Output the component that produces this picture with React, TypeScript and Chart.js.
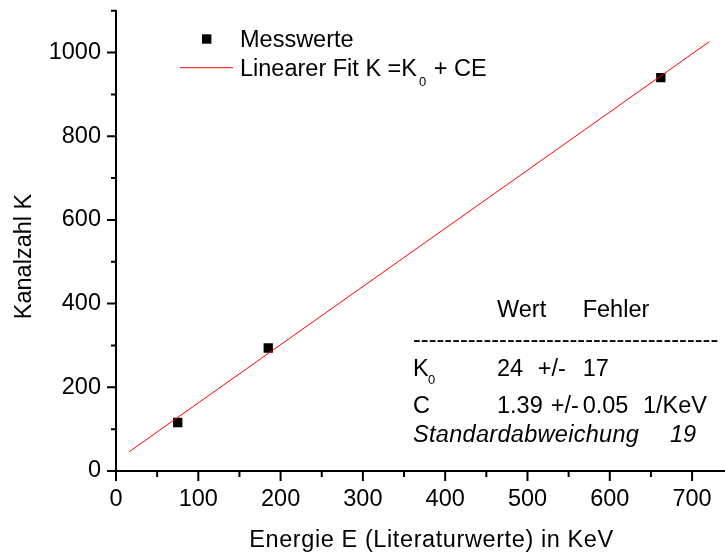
import React, { useEffect, useRef } from "react";
import { Chart, registerables } from "chart.js";

Chart.register(...registerables);

// Measured values (E in keV, K = channel number)
const energyE: number[] = [75, 185, 662];
const channelK: number[] = [116, 294, 940];

// Linear fit line K = K0 + C*E, read at its drawn end points
const fitE: number[] = [16, 721];
const fitK: number[] = [46, 1026];

const xTickStep = 100;
const yTickStep = 200;
const xMax = 740;
const yMax = 1100;

const xTitle = "Energie E (Literaturwerte) in KeV";
const yTitle = "Kanalzahl K";
const legendLabels: string[] = ["Messwerte", "Linearer Fit K =K", "0", " + CE"];
const tableHeader: string[] = ["Wert", "Fehler"];
const rowK0: string[] = ["K", "0", "24", "+/-", "17"];
const rowC: string[] = ["C", "1.39", "+/-", "0.05", "1/KeV"];
const rowStd: string[] = ["Standardabweichung", "19"];

const FONT = "'Liberation Sans', Arial, Helvetica, sans-serif";
const FS = 23.5;

const decorPlugin = {
  id: "decor",
  afterDraw(chart: any) {
    const ctx = chart.ctx as CanvasRenderingContext2D;
    const xs = chart.scales.x;
    const ys = chart.scales.y;
    const area = chart.chartArea;
    ctx.save();
    // tick marks (major + minor), outside
    ctx.strokeStyle = "#000";
    ctx.lineWidth = 2;
    ctx.beginPath();
    for (let v = 0; v <= xMax; v += xTickStep / 2) {
      const px = xs.getPixelForValue(v);
      const major = v % xTickStep === 0;
      ctx.moveTo(px, area.bottom);
      ctx.lineTo(px, area.bottom + (major ? 10 : 6));
    }
    for (let v = 0; v <= yMax; v += yTickStep / 2) {
      const py = ys.getPixelForValue(v);
      const major = v % yTickStep === 0;
      ctx.moveTo(area.left, py);
      ctx.lineTo(area.left - (major ? 9 : 5), py);
    }
    ctx.stroke();

    ctx.fillStyle = "#000";
    ctx.textBaseline = "alphabetic";
    ctx.textAlign = "left";
    const big = `${FS}px ${FONT}`;
    const small = `13px ${FONT}`;

    // axis titles
    ctx.font = big;
    ctx.textAlign = "center";
    (ctx as any).letterSpacing = "0.6px";
    ctx.fillText(xTitle, 431.5, 546.5);
    (ctx as any).letterSpacing = "0px";
    ctx.save();
    ctx.translate(30.7, 256.5);
    ctx.rotate(-Math.PI / 2);
    ctx.fillText(yTitle, 0, 0);
    ctx.restore();
    ctx.textAlign = "left";

    // legend
    ctx.fillRect(206.7 - 4.7, 39 - 4.7, 9.4, 9.4);
    ctx.font = big;
    ctx.fillText(legendLabels[0], 240, 46.7);
    ctx.strokeStyle = "#ff0000";
    ctx.lineWidth = 1;
    ctx.beginPath();
    ctx.moveTo(180, 67.7);
    ctx.lineTo(233, 67.7);
    ctx.stroke();
    ctx.fillText(legendLabels[1], 240, 75.5);
    const w1 = ctx.measureText(legendLabels[1]).width;
    ctx.font = small;
    ctx.fillText(legendLabels[2], 240 + w1 + 2, 86);
    const w2 = ctx.measureText(legendLabels[2]).width;
    ctx.font = big;
    ctx.fillText(legendLabels[3], 240 + w1 + 2 + w2 + 1, 75.5);

    // fit result table
    ctx.fillText(tableHeader[0], 497, 317.3);
    ctx.fillText(tableHeader[1], 582.7, 317.3);
    ctx.fillText("-".repeat(39), 413, 347);
    ctx.fillText(rowK0[0], 413, 376);
    ctx.font = small;
    ctx.fillText(rowK0[1], 428, 384.3);
    ctx.font = big;
    ctx.fillText(rowK0[2], 497, 376);
    ctx.fillText(rowK0[3], 537.7, 376);
    ctx.fillText(rowK0[4], 582.7, 376);
    ctx.fillText(rowC[0], 413, 413.3);
    ctx.fillText(rowC[1], 497, 413.3);
    ctx.fillText(rowC[2], 550.7, 413.3);
    ctx.fillText(rowC[3], 582.7, 413.3);
    ctx.fillText(rowC[4], 643, 413.3);
    ctx.font = `italic ${FS}px ${FONT}`;
    (ctx as any).letterSpacing = "0.3px";
    ctx.fillText(rowStd[0], 413, 442.3);
    (ctx as any).letterSpacing = "0px";
    ctx.fillText(rowStd[1], 670, 442.3);
    ctx.restore();
  },
};

export default function App() {
  const ref = useRef<HTMLCanvasElement | null>(null);
  useEffect(() => {
    if (!ref.current) return;
    const chart = new Chart(ref.current, {
      type: "scatter",
      data: {
        datasets: [
          {
            label: "Linearer Fit",
            type: "line",
            data: fitE.map((e, i) => ({ x: e, y: fitK[i] })),
            borderColor: "#ff0000",
            borderWidth: 1,
            pointRadius: 0,
            fill: false,
          } as any,
          {
            label: "Messwerte",
            data: energyE.map((e, i) => ({ x: e, y: channelK[i] })),
            backgroundColor: "#000",
            borderColor: "#000",
            borderWidth: 0,
            pointStyle: "rect",
            pointRadius: 6.6,
          },
        ],
      },
      options: {
        responsive: false,
        animation: false,
        layout: { autoPadding: false, padding: { top: 10.7, right: 0, bottom: 0, left: 0 } },
        plugins: {
          legend: { display: false },
          tooltip: { enabled: false },
        },
        scales: {
          x: {
            type: "linear",
            min: 0,
            max: xMax,
            grid: { display: false, drawTicks: true, tickLength: 10 },
            border: { display: true, color: "#000", width: 2 },
            ticks: {
              stepSize: xTickStep,
              includeBounds: false,
              color: "#000",
              font: { family: FONT, size: FS },
              padding: 4,
              maxRotation: 0,
              callback: (v: any) => String(v),
            },
            title: { display: false },
            afterFit(s: any) {
              s.height = 81;
              s.paddingLeft = 0;
              s.paddingRight = 0;
            },
          },
          y: {
            type: "linear",
            min: 0,
            max: yMax,
            grid: { display: false, drawTicks: true, tickLength: 9 },
            border: { display: true, color: "#000", width: 2 },
            ticks: {
              stepSize: yTickStep,
              includeBounds: false,
              color: "#000",
              font: { family: FONT, size: FS },
              padding: 6,
              callback: (v: any) => String(v),
            },
            title: { display: false },
            afterFit(s: any) {
              s.width = 116;
              s.paddingTop = 0;
              s.paddingBottom = 0;
            },
          },
        },
      },
      plugins: [decorPlugin],
    });
    return () => chart.destroy();
  }, []);
  return (
    <div style={{ position: "absolute", left: 0, top: 0, width: 725, height: 552, background: "#fff" }}>
      <canvas ref={ref} width={725} height={552} style={{ display: "block" }} />
    </div>
  );
}
